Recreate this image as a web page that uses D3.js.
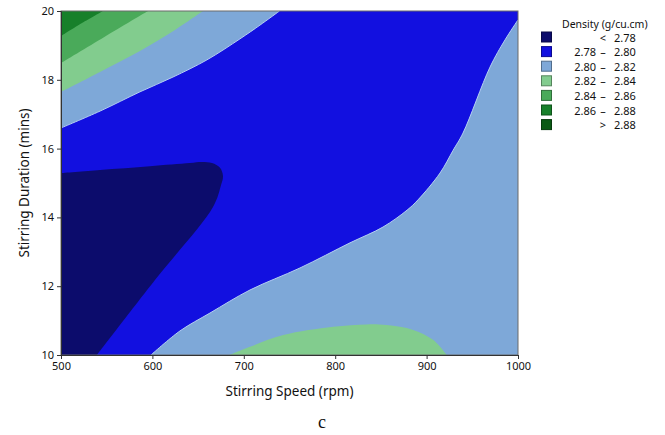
<!DOCTYPE html>
<html>
<head>
<meta charset="utf-8">
<script src="https://cdn.jsdelivr.net/npm/d3@7/dist/d3.min.js"></script>
<style>
  html, body { margin: 0; padding: 0; background: #ffffff; }
  svg { display: block; }
  text { font-family: "Noto Sans", "Open Sans", sans-serif; fill: #111; }
</style>
</head>
<body>
<svg id="chart" width="665" height="435"></svg>
<script>
// Axis ticks
const speedTicks = [500, 600, 700, 800, 900, 1000];
const durationTicks = [10, 12, 14, 16, 18, 20];

// Density bands (g/cu.cm)
const legendLow  = ["",     "2.78", "2.80", "2.82", "2.84", "2.86", ""];
const legendSep  = ["<",    "–",    "–",    "–",    "–",    "–",    ">"];
const legendHigh = ["2.78", "2.80", "2.82", "2.84", "2.86", "2.88", "2.88"];
const bandColors = ["#0c0c6c", "#1210e0", "#7ea8d8", "#82cc8e", "#4aaa5a", "#17802a", "#0b5a14"];

// Contour boundaries as [speed rpm, duration mins]
// 2.80 contour, upper-left
const c280Upper = [[500, 16.60], [542.7, 17.09], [586.4, 17.65], [622.5, 18.08], [659.7, 18.58], [695.8, 19.19], [717.7, 19.59], [739, 20]];
// 2.82 contour, upper-left
const c282Upper = [[500, 17.65], [542.7, 18.23], [586.4, 18.84], [624.7, 19.45], [655.4, 20]];
// 2.84 contour, upper-left
const c284Upper = [[500, 18.49], [547, 19.24], [595.2, 20]];
// 2.86 contour, upper-left
const c286Upper = [[500, 19.27], [523, 19.65], [546, 20]];
// 2.80 contour, lower-right
const c280Lower = [[598.5, 10], [630.2, 10.70], [663.0, 11.22], [706.8, 11.89], [761.5, 12.53], [816.2, 13.26], [852.3, 13.72], [878.6, 14.21], [890.6, 14.51], [914.7, 15.29], [929, 15.95], [939.8, 16.45], [969.4, 18.37], [985.8, 19.16], [1000, 19.74]];
// 2.82 contour, lower-middle
const c282Lower = [[684.1, 10], [706.8, 10.24], [743.2, 10.58], [797.9, 10.82], [834.5, 10.89], [856.3, 10.87], [885.4, 10.73], [907.0, 10.44], [922.0, 10]];
// 2.78 contour, lower-left
const c278 = [[500, 15.29], [542.7, 15.38], [597.4, 15.49], [641.1, 15.58], [654.3, 15.61], [665.2, 15.58], [674, 15.44], [677.2, 15.20], [675.1, 14.94], [666.3, 14.30], [602.8, 12.18], [539.4, 10]];

const svg = d3.select("#chart");
const plot = { left: 61, right: 518, top: 11, bottom: 355 };

const x = d3.scaleLinear().domain([500, 1000]).range([plot.left, plot.right]);
const y = d3.scaleLinear().domain([10, 20]).range([plot.bottom, plot.top]);

svg.append("defs").append("clipPath").attr("id", "plotClip")
  .append("rect")
  .attr("x", plot.left).attr("y", plot.top)
  .attr("width", plot.right - plot.left).attr("height", plot.bottom - plot.top);

const g = svg.append("g").attr("clip-path", "url(#plotClip)");

const curveLine = d3.line()
  .x(d => x(d[0])).y(d => y(d[1]))
  .curve(d3.curveCatmullRom.alpha(0.5));

// Closed region: the contour curve followed by straight runs along the plot edges
function regionPath(curvePts, closePts) {
  return curveLine(curvePts) + closePts.map(p => `L${x(p[0])},${y(p[1])}`).join("") + "Z";
}

// Base band 2.78 – 2.80 fills the frame
g.append("rect")
  .attr("x", x(500)).attr("y", y(20))
  .attr("width", x(1000) - x(500)).attr("height", y(10) - y(20))
  .attr("fill", bandColors[1]);

const regions = [
  { pts: c280Upper, close: [[500, 20]], band: 2, edge: true },
  { pts: c282Upper, close: [[500, 20]], band: 3 },
  { pts: c284Upper, close: [[500, 20]], band: 4 },
  { pts: c286Upper, close: [[500, 20]], band: 5 },
  { pts: c280Lower, close: [[1000, 10]], band: 2, edge: true },
  { pts: c282Lower, close: [], band: 3 },
  { pts: c278, close: [[500, 10]], band: 0 }
];

regions.forEach(r => {
  g.append("path")
    .attr("d", regionPath(r.pts, r.close))
    .attr("fill", bandColors[r.band]);
  if (r.edge) {
    g.append("path")
      .attr("d", curveLine(r.pts))
      .attr("fill", "none")
      .attr("stroke", "#b4cff2")
      .attr("stroke-width", 1);
  }
});

// Frame
svg.append("rect")
  .attr("x", plot.left).attr("y", plot.top)
  .attr("width", plot.right - plot.left).attr("height", plot.bottom - plot.top)
  .attr("fill", "none").attr("stroke", "#6a6a6a").attr("stroke-width", 1);

// Axes
const xAxis = svg.append("g")
  .attr("transform", `translate(0,${plot.bottom})`)
  .call(d3.axisBottom(x).tickValues(speedTicks).tickSize(4).tickPadding(3).tickFormat(d3.format("d")));
const yAxis = svg.append("g")
  .attr("transform", `translate(${plot.left},0)`)
  .call(d3.axisLeft(y).tickValues(durationTicks).tickSize(4).tickPadding(3).tickFormat(d3.format("d")));

[xAxis, yAxis].forEach(a => {
  a.select(".domain").attr("stroke", "#333");
  a.selectAll(".tick line").attr("stroke", "#333");
  a.selectAll(".tick text")
    .style("font-family", "'Noto Sans', sans-serif")
    .style("font-size", "11px")
    .attr("fill", "#111");
});

// Axis titles
svg.append("text")
  .attr("x", (plot.left + plot.right) / 2).attr("y", 396)
  .attr("text-anchor", "middle")
  .style("font-size", "13.5px")
  .text("Stirring Speed (rpm)");

svg.append("text")
  .attr("transform", `translate(29,${(plot.top + plot.bottom) / 2}) rotate(-90)`)
  .attr("text-anchor", "middle")
  .style("font-size", "13.5px")
  .text("Stirring Duration (mins)");

// Panel letter
svg.append("text")
  .attr("x", 322).attr("y", 428)
  .attr("text-anchor", "middle")
  .style("font-family", "'Liberation Serif', 'DejaVu Serif', serif")
  .style("font-size", "18px")
  .text("c");

// Legend
const legend = svg.append("g");
legend.append("text")
  .attr("x", 562).attr("y", 28)
  .style("font-size", "10.5px")
  .text("Density (g/cu.cm)");

const rowY = i => 37.5 + i * 14.6;
bandColors.forEach((c, i) => {
  legend.append("rect")
    .attr("x", 541.5).attr("y", rowY(i) - 5.5)
    .attr("width", 10).attr("height", 10)
    .attr("fill", c)
    .attr("stroke", d3.color(c).darker(1.2))
    .attr("stroke-width", 1);
  legend.append("text")
    .attr("x", 596).attr("y", rowY(i) + 4)
    .attr("text-anchor", "end")
    .style("font-size", "11px")
    .text(legendLow[i]);
  legend.append("text")
    .attr("x", 603).attr("y", rowY(i) + 4)
    .attr("text-anchor", "middle")
    .style("font-size", "11px")
    .text(legendSep[i]);
  legend.append("text")
    .attr("x", 614).attr("y", rowY(i) + 4)
    .style("font-size", "11px")
    .text(legendHigh[i]);
});
</script>
</body>
</html>
